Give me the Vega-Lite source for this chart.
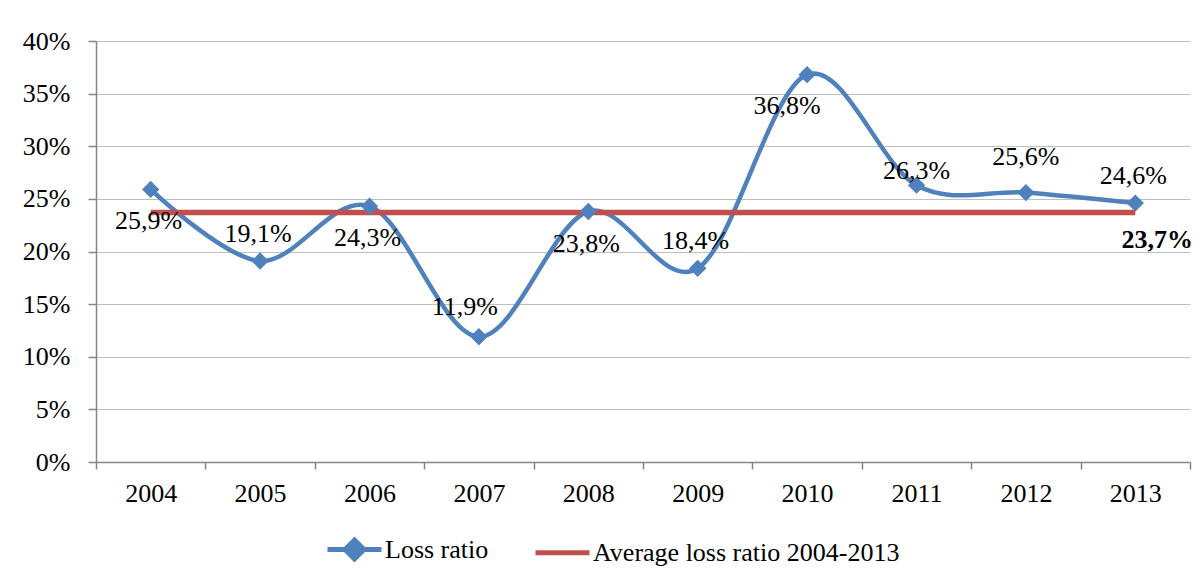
{
  "$schema": "https://vega.github.io/schema/vega-lite/v6.json",
  "width": 1094,
  "height": 421,
  "autosize": "none",
  "padding": {"left": 96, "top": 41, "right": 14, "bottom": 118},
  "background": "white",
  "config": {
    "view": {"stroke": null},
    "font": "Liberation Serif",
    "text": {"font": "Liberation Serif"},
    "legend": {"labelFont": "Liberation Serif"},
    "axis": {"labelFont": "Liberation Serif"},
    "locale": {"number": {"decimal": ",", "thousands": ".", "grouping": [3], "currency": ["", " €"]}}
  },
  "data": {
    "values": [
      {"year": 2004, "series": "Loss ratio", "value": 0.259},
      {"year": 2005, "series": "Loss ratio", "value": 0.191},
      {"year": 2006, "series": "Loss ratio", "value": 0.243},
      {"year": 2007, "series": "Loss ratio", "value": 0.119},
      {"year": 2008, "series": "Loss ratio", "value": 0.238},
      {"year": 2009, "series": "Loss ratio", "value": 0.184},
      {"year": 2010, "series": "Loss ratio", "value": 0.368},
      {"year": 2011, "series": "Loss ratio", "value": 0.263},
      {"year": 2012, "series": "Loss ratio", "value": 0.256},
      {"year": 2013, "series": "Loss ratio", "value": 0.246},
      {"year": 2004, "series": "Average loss ratio 2004-2013", "value": 0.237},
      {"year": 2005, "series": "Average loss ratio 2004-2013", "value": 0.237},
      {"year": 2006, "series": "Average loss ratio 2004-2013", "value": 0.237},
      {"year": 2007, "series": "Average loss ratio 2004-2013", "value": 0.237},
      {"year": 2008, "series": "Average loss ratio 2004-2013", "value": 0.237},
      {"year": 2009, "series": "Average loss ratio 2004-2013", "value": 0.237},
      {"year": 2010, "series": "Average loss ratio 2004-2013", "value": 0.237},
      {"year": 2011, "series": "Average loss ratio 2004-2013", "value": 0.237},
      {"year": 2012, "series": "Average loss ratio 2004-2013", "value": 0.237},
      {"year": 2013, "series": "Average loss ratio 2004-2013", "value": 0.237}
    ]
  },
  "encoding": {
    "x": {
      "field": "year", "type": "ordinal",
      "scale": {"type": "band", "paddingInner": 0, "paddingOuter": 0},
      "axis": {
        "title": null, "labelAngle": 0, "labelFontSize": 26, "labelColor": "#000000",
        "labelFont": "Liberation Serif", "labelPadding": 11,
        "tickBand": "extent", "tickSize": 7, "tickColor": "#868686", "tickWidth": 1.5,
        "domainColor": "#868686", "domainWidth": 1.5, "grid": false
      }
    },
    "y": {
      "field": "value", "type": "quantitative",
      "scale": {"domain": [0, 0.4], "nice": false},
      "axis": {
        "title": null, "format": ".0%", "values": [0, 0.05, 0.1, 0.15, 0.2, 0.25, 0.3, 0.35, 0.4],
        "labelFontSize": 26, "labelColor": "#000000", "labelFont": "Liberation Serif", "labelPadding": 18,
        "tickSize": 8, "tickColor": "#868686", "tickWidth": 1.5,
        "domainColor": "#868686", "domainWidth": 1.5,
        "grid": true, "gridColor": "#bfbfbf", "gridWidth": 1.2
      }
    }
  },
  "layer": [
    {
      "transform": [{"filter": "datum.series == 'Loss ratio'"}],
      "mark": {"type": "line", "interpolate": "cardinal", "strokeWidth": 4.5, "strokeCap": "round"},
      "encoding": {
        "color": {
          "field": "series", "type": "nominal",
          "scale": {"domain": ["Loss ratio", "Average loss ratio 2004-2013"], "range": ["#4f81bd", "#c0504d"]},
          "legend": {
            "title": null, "orient": "none", "direction": "horizontal",
            "legendX": 229, "legendY": 479,
            "labelFontSize": 26, "labelFont": "Liberation Serif", "labelColor": "#000000", "labelLimit": 0,
            "symbolSize": 2916, "symbolStrokeWidth": 5, "labelOffset": 1, "columnPadding": 36,
            "symbolType": "M-1,0H1",
            "encode": {
              "labels": {"update": {"font": {"value": "Liberation Serif"}}},
              "symbols": {
                "update": {
                  "shape": {"signal": "datum.value == 'Loss ratio' ? 'M-1,0H1M0,-0.35L0.35,0L0,0.35L-0.35,0Z' : 'M-1,0H1'"},
                  "fill": {"signal": "datum.value == 'Loss ratio' ? '#4f81bd' : '#c0504d'"},
                  "stroke": {"signal": "datum.value == 'Loss ratio' ? '#4f81bd' : '#c0504d'"},
                  "strokeWidth": {"value": 5},
                  "fillOpacity": {"value": 1},
                  "opacity": {"value": 1}
                }
              }
            }
          }
        }
      }
    },
    {
      "transform": [{"filter": "datum.series != 'Loss ratio'"}],
      "mark": {"type": "line", "strokeWidth": 5.5, "strokeCap": "butt"},
      "encoding": {"color": {"field": "series", "type": "nominal"}}
    },
    {
      "transform": [{"filter": "datum.series == 'Loss ratio'"}],
      "mark": {"type": "point", "shape": "diamond", "size": 300, "filled": true, "opacity": 1, "color": "#4f81bd"}
    },
    {
      "transform": [{"filter": {"field": "year", "oneOf": [2004, 2006, 2008]}}, {"filter": "datum.series == 'Loss ratio'"}],
      "mark": {"type": "text", "font": "Liberation Serif", "fontSize": 26, "dy": 32, "dx": -2, "color": "#000000"},
      "encoding": {"text": {"field": "value", "type": "quantitative", "format": ".1%"}}
    },
    {
      "transform": [{"filter": {"field": "year", "oneOf": [2010]}}, {"filter": "datum.series == 'Loss ratio'"}],
      "mark": {"type": "text", "font": "Liberation Serif", "fontSize": 26, "dy": 31, "dx": -20, "color": "#000000"},
      "encoding": {"text": {"field": "value", "type": "quantitative", "format": ".1%"}}
    },
    {
      "transform": [{"filter": {"field": "year", "oneOf": [2005, 2009, 2013]}}, {"filter": "datum.series == 'Loss ratio'"}],
      "mark": {"type": "text", "font": "Liberation Serif", "fontSize": 26, "dy": -27, "dx": -2, "color": "#000000"},
      "encoding": {"text": {"field": "value", "type": "quantitative", "format": ".1%"}}
    },
    {
      "transform": [{"filter": {"field": "year", "oneOf": [2007]}}, {"filter": "datum.series == 'Loss ratio'"}],
      "mark": {"type": "text", "font": "Liberation Serif", "fontSize": 26, "dy": -30, "dx": -14, "color": "#000000"},
      "encoding": {"text": {"field": "value", "type": "quantitative", "format": ".1%"}}
    },
    {
      "transform": [{"filter": {"field": "year", "oneOf": [2011]}}, {"filter": "datum.series == 'Loss ratio'"}],
      "mark": {"type": "text", "font": "Liberation Serif", "fontSize": 26, "dy": -14, "color": "#000000"},
      "encoding": {"text": {"field": "value", "type": "quantitative", "format": ".1%"}}
    },
    {
      "transform": [{"filter": {"field": "year", "oneOf": [2012]}}, {"filter": "datum.series == 'Loss ratio'"}],
      "mark": {"type": "text", "font": "Liberation Serif", "fontSize": 26, "dy": -36, "color": "#000000"},
      "encoding": {"text": {"field": "value", "type": "quantitative", "format": ".1%"}}
    },
    {
      "transform": [{"filter": {"field": "year", "oneOf": [2013]}}, {"filter": "datum.series != 'Loss ratio'"}],
      "mark": {"type": "text", "font": "Liberation Serif", "fontSize": 26, "fontWeight": "bold", "dy": 27, "dx": 22, "color": "#000000"},
      "encoding": {"text": {"field": "value", "type": "quantitative", "format": ".1%"}}
    }
  ]
}
